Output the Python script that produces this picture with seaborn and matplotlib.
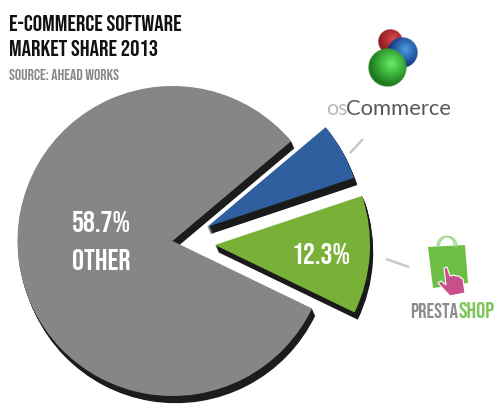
import numpy as np
import matplotlib
matplotlib.use('Agg')
import matplotlib.pyplot as plt
import seaborn as sns
from matplotlib.patches import Polygon, Arc

# data, drawn angles differ from the printed label on the big slice
slices = ['PrestaShop', 'osCommerce', 'Other']
shares = [12.3, 6.0, 81.7]
pct_labels = ['12.3%', '58.7%', 'OTHER']
title_lines = ['E-COMMERCE SOFTWARE', 'MARKET SHARE 2013']
source = 'SOURCE: AHEAD WORKS'

sns.set_theme(style='white')
colors = sns.color_palette(['#79b037', '#2f5f9f', '#868686'])
side_colors = sns.color_palette(['#1a1a1a', '#1a1a1a', '#1c1c1c'])
plt.rcParams['font.family'] = ['Bebas Neue', 'Liberation Sans', 'DejaVu Sans']

fig = plt.figure(figsize=(5.01, 4.08), dpi=100)
ax = fig.add_axes([0, 0, 1, 1])


def flip(y):
    return 408 - y


cx, cy, rad = 172.5, flip(241), 155
pull = [(42.5, -4), (34.5, 14), (0, 0)]


def draw_pie(x, y, cols):
    wedges, _ = ax.pie(shares, colors=cols, startangle=-25.8, radius=rad, center=(x, y),
                       wedgeprops={'linewidth': 0})
    for w, (dx, dy) in zip(wedges, pull):
        w.set_center((x + dx, y + dy))


# pie, extruded downwards for the 3d look
for step in range(8, 0, -1):
    draw_pie(cx + step * 0.4, cy - step * 0.9, side_colors)
draw_pie(cx, cy, colors)


def sphere(x, y, r, dark, light):
    n = 80
    yy, xx = np.mgrid[-1:1:n * 1j, -1:1:n * 1j]
    d = np.sqrt(xx ** 2 + yy ** 2)
    t = np.clip(np.sqrt((xx - 0.2) ** 2 + (yy + 0.2) ** 2) / 1.1, 0, 1)[..., None]
    rgb = (1 - t) * np.array(matplotlib.colors.to_rgb(light)) + t * np.array(matplotlib.colors.to_rgb(dark))
    img = np.dstack([rgb, np.clip((1 - d) * 40, 0, 1)])
    ax.imshow(img, extent=(x - r, x + r, flip(y + r), flip(y - r)), zorder=3, interpolation='bilinear')


# osCommerce logo
sphere(391, 42, 12.5, '#8e1c22', '#d9484e')
sphere(403, 53, 15.5, '#12357c', '#4a9fe8')
sphere(388, 68, 19.5, '#1c7a1c', '#66ee66')
ax.text(326, flip(115), 'os', color='#b4b9bd', fontsize=15.5, family=['Lato', 'DejaVu Sans'],
        ha='left', va='baseline')
ax.text(451.5, flip(115), 'Commerce', color='#55595c', fontsize=15.8, family=['Lato', 'DejaVu Sans'],
        ha='right', va='baseline')

# PrestaShop logo
bag = [(428, 247), (465, 245), (468, 283), (433, 288)]
ax.add_patch(Polygon([(x, flip(y)) for x, y in bag], fc='#6dbe45', ec='none', zorder=3))
ax.add_patch(Arc((446, flip(247)), 18, 21, theta1=0, theta2=180, ec='#a6d98c', lw=1.1, zorder=3))
ax.add_patch(Arc((448, flip(247)), 18, 21, theta1=0, theta2=180, ec='#a6d98c', lw=1.1, zorder=3))
hand = [(444, 268), (447, 267), (450, 276), (454, 275), (456, 276), (459, 276), (461, 278), (463, 279),
        (465, 293), (450, 296), (438, 283), (441, 281), (446, 285)]
ax.add_patch(Polygon([(x, flip(y)) for x, y in hand], fc='#c9508a', ec='white', lw=0.8, zorder=4))
ax.text(410, flip(318.5), 'PRESTA', color='#8a8c8f', fontsize=15, ha='left', va='baseline')
ax.text(459, flip(318.5), 'SHOP', color='#7cc65a', fontsize=16.5, ha='left', va='baseline')

# leader lines
ax.plot([350, 363], [flip(153), flip(139)], color='#c8c8c8', lw=1.8, solid_capstyle='butt')
ax.plot([386, 409], [flip(259), flip(267)], color='#c8c8c8', lw=1.8, solid_capstyle='butt')

# texts
ax.text(9, flip(31), title_lines[0], color='#111111', fontsize=16.8, va='baseline')
ax.text(9, flip(56), title_lines[1], color='#111111', fontsize=16.8, va='baseline')
ax.text(9, flip(80), source, color='#888888', fontsize=11.3, va='baseline')
ax.text(321.5, flip(253), pct_labels[0], color='white', fontsize=21.5, ha='center', va='center')
ax.text(101.5, flip(222), pct_labels[1], color='white', fontsize=21.5, ha='center', va='center')
ax.text(101.5, flip(260), pct_labels[2], color='white', fontsize=21.5, ha='center', va='center')

ax.set_xlim(0, 501)
ax.set_ylim(0, 408)
ax.set_aspect('auto')
ax.axis('off')
fig.savefig('out.png', dpi=100)
